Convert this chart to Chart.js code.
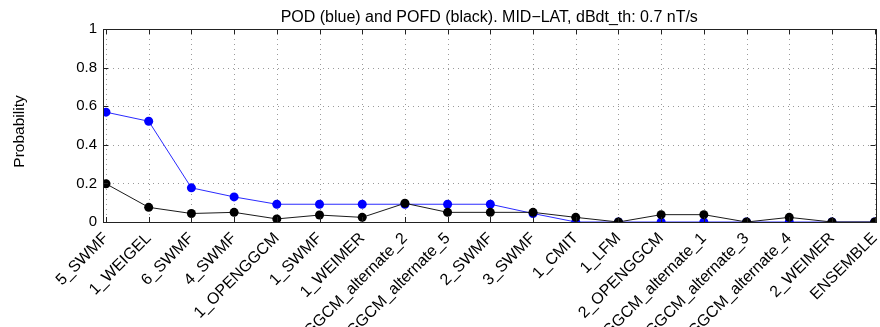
<!DOCTYPE html>
<html>
<head>
<meta charset="utf-8">
<script src="https://cdn.jsdelivr.net/npm/chart.js@4.4.1/dist/chart.umd.min.js"></script>
<style>
  html, body { margin: 0; padding: 0; background: #fff; }
  #wrap { width: 880px; height: 327px; }
</style>
</head>
<body>
<div id="wrap"><canvas id="chart" width="880" height="327"></canvas></div>
<script>
// models along the x axis
const models = ['5_SWMF', '1_WEIGEL', '6_SWMF', '4_SWMF', '1_OPENGGCM', '1_SWMF', '1_WEIMER',
  'OPENGGCM_alternate_2', 'OPENGGCM_alternate_5', '2_SWMF', '3_SWMF', '1_CMIT', '1_LFM',
  '2_OPENGGCM', 'OPENGGCM_alternate_1', 'OPENGGCM_alternate_3', 'OPENGGCM_alternate_4',
  '2_WEIMER', 'ENSEMBLE'];

// probability of detection (blue)
const pod = [0.569, 0.522, 0.177, 0.130, 0.092, 0.092, 0.092, 0.092, 0.092, 0.092, 0.044,
  0, 0, 0, 0, 0, 0, 0, 0];

// probability of false detection (black)
const pofd = [0.198, 0.076, 0.044, 0.050, 0.016, 0.036, 0.024, 0.097, 0.050, 0.050, 0.050,
  0.024, 0, 0.038, 0.038, 0, 0.024, 0, 0];

const yTicks = [0, 0.2, 0.4, 0.6, 0.8, 1];
const titleText = 'POD (blue) and POFD (black). MID\u2212LAT, dBdt_th: 0.7 nT/s';
const yTitle = 'Probability';

const FONT = '"Liberation Sans", Arial, Helvetica, sans-serif';

// dotted grid under the lines
const gridPlugin = {
  id: 'dotgrid',
  beforeDatasetsDraw(chart) {
    const { ctx, chartArea: a, scales } = chart;
    ctx.save();
    ctx.strokeStyle = '#9a9a9a';
    ctx.lineWidth = 1;
    ctx.setLineDash([1, 4]);
    ctx.beginPath();
    models.forEach((m, i) => {
      const x = Math.round(scales.x.getPixelForValue(i)) + 0.5;
      ctx.moveTo(x, a.top); ctx.lineTo(x, a.bottom);
    });
    yTicks.forEach(v => {
      const y = Math.round(scales.y.getPixelForValue(v)) + 0.5;
      ctx.moveTo(a.left, y); ctx.lineTo(a.right, y);
    });
    ctx.stroke();
    ctx.restore();
  }
};

// box around the plot, inward ticks, the title and the y label
const framePlugin = {
  id: 'frame',
  afterDatasetsDraw(chart) {
    const { ctx, chartArea: a, scales } = chart;
    ctx.save();
    ctx.strokeStyle = '#222';
    ctx.lineWidth = 1;
    ctx.beginPath();
    models.forEach((m, i) => {
      const x = Math.round(scales.x.getPixelForValue(i)) + 0.5;
      ctx.moveTo(x, a.bottom); ctx.lineTo(x, a.bottom - 5);
      ctx.moveTo(x, a.top); ctx.lineTo(x, a.top + 5);
    });
    yTicks.forEach(v => {
      const y = Math.round(scales.y.getPixelForValue(v)) + 0.5;
      ctx.moveTo(a.left, y); ctx.lineTo(a.left + 5, y);
      ctx.moveTo(a.right, y); ctx.lineTo(a.right - 5, y);
    });
    ctx.stroke();
    ctx.strokeRect(Math.round(a.left) + 0.5, Math.round(a.top) + 0.5,
      Math.round(a.right - a.left), Math.round(a.bottom - a.top));

    ctx.fillStyle = '#000';
    ctx.font = '16px ' + FONT;
    ctx.textAlign = 'center';
    ctx.textBaseline = 'alphabetic';
    ctx.fillText(titleText, (a.left + a.right) / 2, a.top - 7);

    ctx.font = '15.5px ' + FONT;
    ctx.textBaseline = 'middle';
    ctx.translate(20, (a.top + a.bottom) / 2 + 6);
    ctx.rotate(-Math.PI / 2);
    ctx.fillText(yTitle, 0, 0);
    ctx.restore();
  }
};

const toPoints = arr => arr.map((v, i) => ({ x: i, y: v }));

new Chart(document.getElementById('chart').getContext('2d'), {
  type: 'line',
  data: {
    datasets: [
      {
        label: 'POFD',
        data: toPoints(pofd),
        borderColor: '#1a1a1a',
        backgroundColor: '#000',
        borderWidth: 1,
        pointRadius: 4.5,
        pointBorderWidth: 0,
        tension: 0,
        order: 0
      },
      {
        label: 'POD',
        data: toPoints(pod),
        borderColor: '#2a2aff',
        backgroundColor: '#0000ff',
        borderWidth: 1,
        pointRadius: 4.5,
        pointBorderWidth: 0,
        tension: 0,
        order: 1
      }
    ]
  },
  options: {
    responsive: false,
    animation: false,
    layout: { padding: { top: 29, right: 1, left: 0, bottom: 0 } },
    plugins: {
      legend: { display: false },
      tooltip: { enabled: false },
      title: { display: false }
    },
    scales: {
      x: {
        type: 'linear',
        min: -0.07,
        max: 18.02,
        afterBuildTicks: s => { s.ticks = models.map((m, i) => ({ value: i })); },
        afterFit: s => { s.height = 105; s.paddingLeft = 0; s.paddingRight = 0; },
        grid: { display: false, drawTicks: false },
        border: { display: false },
        ticks: {
          autoSkip: false,
          maxRotation: 45,
          minRotation: 45,
          padding: 7,
          color: '#000',
          font: { family: FONT, size: 16 },
          callback: v => models[v]
        }
      },
      y: {
        min: 0,
        max: 1,
        afterBuildTicks: s => { s.ticks = yTicks.map(v => ({ value: v })); },
        afterFit: s => { s.width = 103; s.paddingTop = 0; s.paddingBottom = 0; },
        grid: { display: false, drawTicks: false },
        border: { display: false },
        ticks: {
          padding: 6,
          color: '#000',
          font: { family: FONT, size: 15 },
          callback: v => String(v)
        }
      }
    }
  },
  plugins: [gridPlugin, framePlugin]
});
</script>
</body>
</html>
